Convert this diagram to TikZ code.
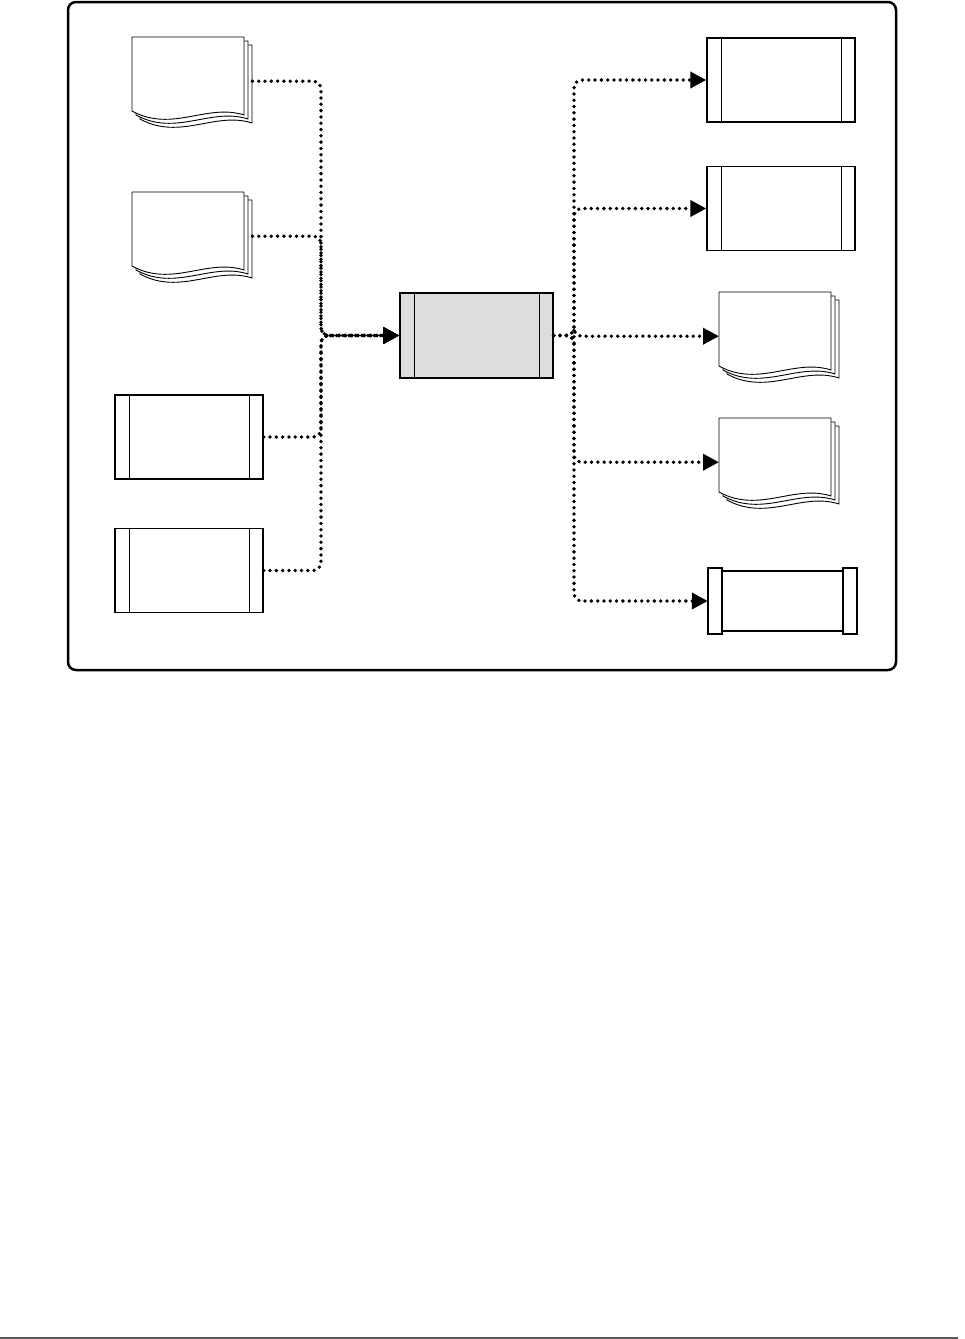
\documentclass[tikz,border=0pt]{standalone}
\usetikzlibrary{arrows.meta, calc}
\definecolor{boxgray}{HTML}{DCDDDF}
\tikzset{
	procbox/.style={
			draw=black,
			line width=1.5pt,
			fill=white,
			minimum width=148pt,
			minimum height=84pt,
			inner sep=0pt,
			path picture={
				\draw[line width=1pt]
					([xshift=14pt]path picture bounding box.north west) -- ([xshift=14pt]path picture bounding box.south west)
					([xshift=-14pt]path picture bounding box.north east) -- ([xshift=-14pt]path picture bounding box.south east);
			}
		},
	mainbox/.style={
			procbox,
			fill=boxgray,
			minimum width=153pt,
			minimum height=85pt
		},
	docnode/.style={
			anchor=north west,
			minimum width=120pt,
			minimum height=88pt,
			inner sep=0pt
		},
	tapenode/.style={
			minimum width=149pt,
			minimum height=66pt,
			inner sep=0pt
		},
	page/.style={
			draw=black,
			line width=0.9pt,
			fill=white,
			line join=round
		},
	boxline/.style={
			draw=black,
			line width=1.5pt,
			fill=white
		},
	flow/.style={
			line width=3.8pt,
			dash pattern=on 0pt off 6.3pt,
			line cap=round,
			rounded corners=8pt,
			-{Triangle[length=16pt,width=16pt]}
		}
}

\begin{document}
\begin{tikzpicture}[x=1pt, y=-1pt]
\useasboundingbox (0,0) rectangle (965,1339);

% frame
\draw[line width=2.5pt, rounded corners=8pt] (68,2) rectangle (896,670);

% inputs
\node[docnode] (inA) at (132,37) {};
\node[docnode] (inB) at (132,192) {};
\node[procbox] (inC) at (189,437) {};
\node[procbox] (inD) at (189,570.5) {};

% program
\node[mainbox] (prog) at (476.5,335.5) {};

% outputs
\node[procbox] (outA) at (781,80) {};
\node[procbox] (outB) at (781,208.5) {};
\node[docnode] (outC) at (719,292) {};
\node[docnode] (outD) at (719,418) {};
\node[tapenode] (outE) at (782.5,601) {};

% stacked pages
\foreach \n in {inA,inB,outC,outD}{
	\begin{scope}[shift={(\n.north west)}]
		\foreach \k in {8,4,0}
			\filldraw[page] (\k,\k) -- (112+\k,\k) -- (112+\k,78+\k)
				.. controls (75+\k,66+\k) and (40+\k,96+\k) .. (\k,74+\k) -- cycle;
	\end{scope}
}

% tape box
\draw[boxline] (outE.north west) rectangle ([xshift=14pt]outE.south west);
\draw[boxline] ([shift={(14pt,-3pt)}]outE.north west) rectangle ([shift={(-14pt,3pt)}]outE.south east);
\draw[boxline] ([xshift=-14pt]outE.north east) rectangle (outE.south east);

% buses
\coordinate (busL) at (321,0);
\coordinate (busR) at (574,0);

\foreach \n in {inA,inB,inC,inD}
	\draw[flow] (\n.east) -| (busL |- prog.west) -- (prog.west);

\foreach \n in {outA,outB,outC,outD,outE}
	\draw[flow] (prog.east) -- (prog.east -| busR) |- (\n.west);

% footer rule
\draw[line width=2pt, black!65] (0,1337.5) -- (958,1337.5);

\end{tikzpicture}
\end{document}
